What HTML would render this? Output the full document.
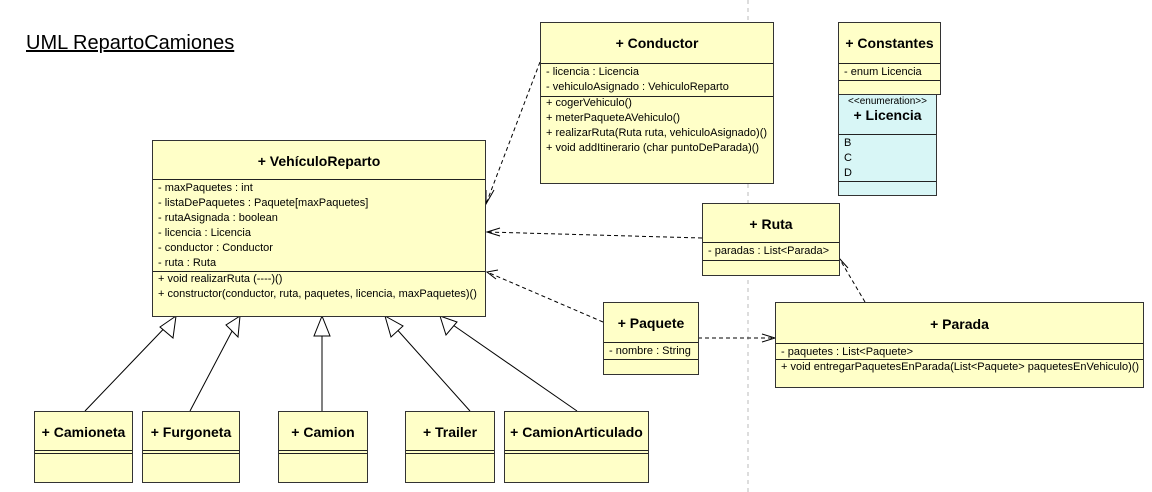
<!DOCTYPE html>
<html><head><meta charset="utf-8"><style>
body{margin:0;width:1152px;height:492px;background:#fff;position:relative;overflow:hidden;font-family:"Liberation Sans",sans-serif;}
.b{position:absolute;background:#ffffc8;border:1px solid #333;box-sizing:border-box;}
.h{position:absolute;left:0;right:0;font-weight:bold;font-size:14px;text-align:center;}
.l{position:absolute;left:0;right:0;border-top:1px solid #222;}
.t{position:absolute;left:5px;font-size:11px;line-height:15px;white-space:nowrap;}
svg{position:absolute;left:0;top:0;}
</style></head><body>
<div style="position:absolute;left:26px;top:32px;font-size:20px;text-decoration:underline;">UML RepartoCamiones</div>
<svg width="1152" height="492">
<line x1="748" y1="0" x2="748" y2="492" stroke="#bbb" stroke-dasharray="4,4"/>
<g stroke="#000" fill="none" stroke-width="1">
<line x1="85" y1="411" x2="176" y2="316"/>
<line x1="190" y1="411" x2="240" y2="316"/>
<line x1="322" y1="411" x2="322" y2="316"/>
<line x1="470" y1="411" x2="385" y2="316"/>
<line x1="577" y1="411" x2="440" y2="316"/>
<line x1="540" y1="62" x2="486" y2="204" stroke-dasharray="4,3"/>
<line x1="702" y1="238" x2="487" y2="232" stroke-dasharray="4,3"/>
<line x1="603" y1="322" x2="487" y2="272" stroke-dasharray="4,3"/>
<line x1="698" y1="338" x2="775" y2="338" stroke-dasharray="4,3"/>
<line x1="865" y1="302" x2="839" y2="258" stroke-dasharray="4,3"/>
<polyline points="494,190 486,204 486,190"/>
<polyline points="500,228 487,232 500,236"/>
<polyline points="498,270 487,272 496,279"/>
<polyline points="762,334 775,338 762,342"/>
<polyline points="838,272 839,258 848,268"/>
</g>
<g stroke="#000" fill="#fff">
<polygon points="176,316 160,327 173,338"/>
<polygon points="240,316 226,325 238,337"/>
<polygon points="322,316 314,336 330,336"/>
<polygon points="385,316 391,337 403,326"/>
<polygon points="440,316 446,335 457,322"/>
</g>
</svg>

<div class="b" style="left:540px;top:22px;width:234px;height:162px;">
<div class="h" style="top:12px;">+ Conductor</div>
<div class="l" style="top:40px;"></div>
<div class="t" style="top:42px;">- licencia : Licencia</div>
<div class="t" style="top:57px;">- vehiculoAsignado : VehiculoReparto</div>
<div class="l" style="top:73px;"></div>
<div class="t" style="top:73px;">+ cogerVehiculo()</div>
<div class="t" style="top:88px;">+ meterPaqueteAVehiculo()</div>
<div class="t" style="top:103px;">+ realizarRuta(Ruta ruta, vehiculoAsignado)()</div>
<div class="t" style="top:118px;">+ void addItinerario (char puntoDeParada)()</div>
</div>

<div class="b" style="left:838px;top:22px;width:103px;height:73px;">
<div class="h" style="top:12px;">+ Constantes</div>
<div class="l" style="top:40px;"></div>
<div class="t" style="top:42px;">- enum Licencia</div>
<div class="l" style="top:57px;"></div>
</div>
<div class="b" style="left:838px;top:94px;width:99px;height:102px;background:#d8f6f6;">
<div style="position:absolute;left:0;right:0;top:1px;font-size:10px;text-align:center;">&lt;&lt;enumeration&gt;&gt;</div>
<div class="h" style="top:12px;">+ Licencia</div>
<div class="l" style="top:39px;"></div>
<div class="t" style="top:41px;">B</div>
<div class="t" style="top:56px;">C</div>
<div class="t" style="top:71px;">D</div>
<div class="l" style="top:86px;"></div>
</div>

<div class="b" style="left:152px;top:140px;width:334px;height:177px;">
<div class="h" style="top:12px;">+ VehículoReparto</div>
<div class="l" style="top:38px;"></div>
<div class="t" style="top:40px;">- maxPaquetes : int</div>
<div class="t" style="top:55px;">- listaDePaquetes : Paquete[maxPaquetes]</div>
<div class="t" style="top:70px;">- rutaAsignada : boolean</div>
<div class="t" style="top:85px;">- licencia : Licencia</div>
<div class="t" style="top:100px;">- conductor : Conductor</div>
<div class="t" style="top:115px;">- ruta : Ruta</div>
<div class="l" style="top:130px;"></div>
<div class="t" style="top:131px;">+ void realizarRuta (----)()</div>
<div class="t" style="top:146px;">+ constructor(conductor, ruta, paquetes, licencia, maxPaquetes)()</div>
</div>

<div class="b" style="left:702px;top:203px;width:138px;height:73px;">
<div class="h" style="top:12px;">+ Ruta</div>
<div class="l" style="top:38px;"></div>
<div class="t" style="top:40px;">- paradas : List&lt;Parada&gt;</div>
<div class="l" style="top:56px;"></div>
</div>

<div class="b" style="left:603px;top:302px;width:96px;height:73px;">
<div class="h" style="top:12px;">+ Paquete</div>
<div class="l" style="top:39px;"></div>
<div class="t" style="top:41px;">- nombre : String</div>
<div class="l" style="top:56px;"></div>
</div>

<div class="b" style="left:775px;top:302px;width:369px;height:86px;">
<div class="h" style="top:13px;">+ Parada</div>
<div class="l" style="top:40px;"></div>
<div class="t" style="top:42px;">- paquetes : List&lt;Paquete&gt;</div>
<div class="l" style="top:56px;"></div>
<div class="t" style="top:57px;">+ void entregarPaquetesEnParada(List&lt;Paquete&gt; paquetesEnVehiculo)()</div>
</div>

<div class="b" style="left:34px;top:411px;width:99px;height:72px;"><div class="h" style="top:12px;">+ Camioneta</div><div class="l" style="top:38px;"></div><div class="l" style="top:41px;"></div></div>
<div class="b" style="left:142px;top:411px;width:98px;height:72px;"><div class="h" style="top:12px;">+ Furgoneta</div><div class="l" style="top:38px;"></div><div class="l" style="top:41px;"></div></div>
<div class="b" style="left:278px;top:411px;width:90px;height:72px;"><div class="h" style="top:12px;">+ Camion</div><div class="l" style="top:38px;"></div><div class="l" style="top:41px;"></div></div>
<div class="b" style="left:405px;top:411px;width:90px;height:72px;"><div class="h" style="top:12px;">+ Trailer</div><div class="l" style="top:38px;"></div><div class="l" style="top:41px;"></div></div>
<div class="b" style="left:504px;top:411px;width:145px;height:72px;"><div class="h" style="top:12px;">+ CamionArticulado</div><div class="l" style="top:38px;"></div><div class="l" style="top:41px;"></div></div>
</body></html>
